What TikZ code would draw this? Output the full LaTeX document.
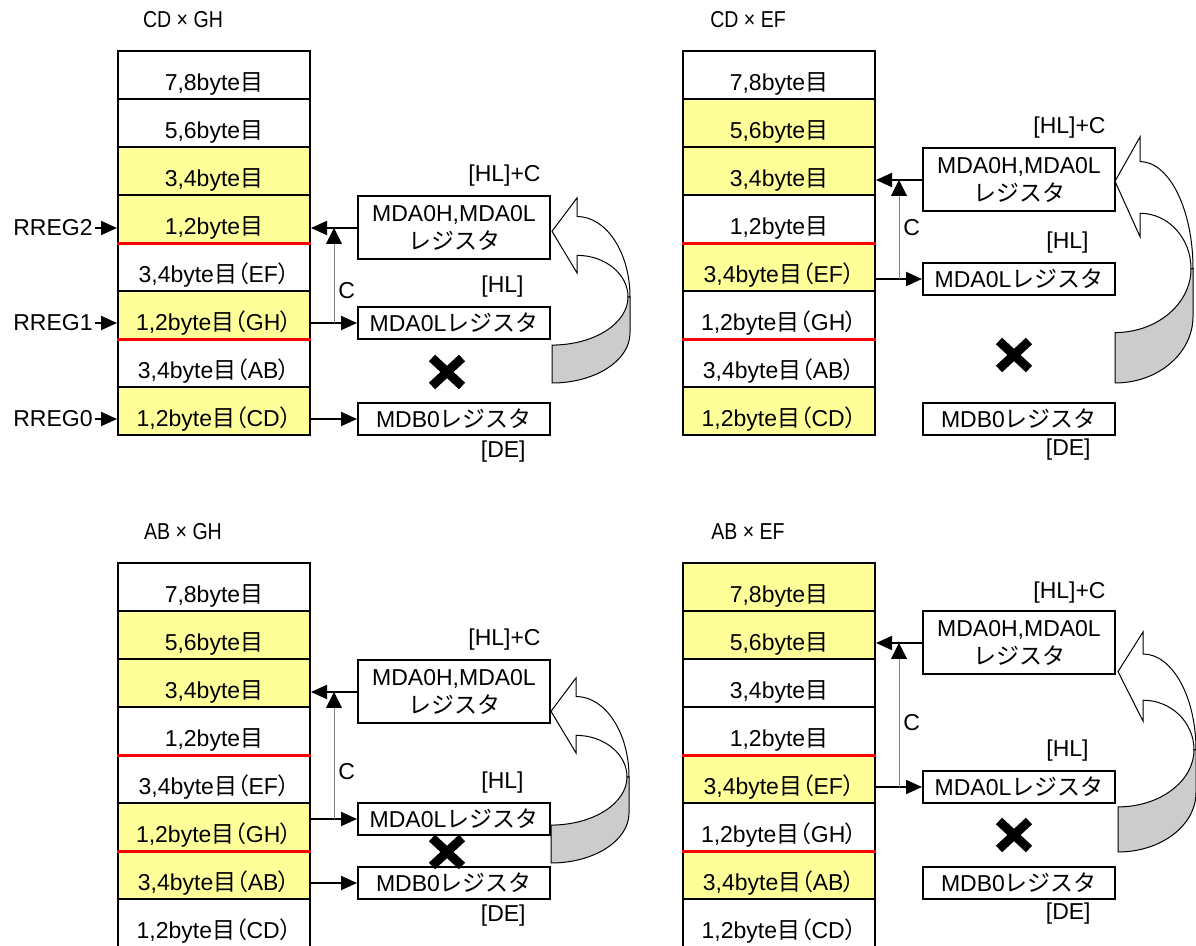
\documentclass[tikz,border=0pt]{standalone}
\usepackage{fontspec}
\setmainfont{Liberation Sans}
\newfontfamily\jp{Noto Sans CJK JP}
\newfontfamily\jpprop[RawFeature=+palt]{Noto Sans CJK JP}
\usetikzlibrary{arrows.meta,calc}
\definecolor{hilite}{RGB}{255,255,153}
\definecolor{sepred}{RGB}{255,0,0}
\definecolor{backgray}{RGB}{204,204,204}
\newcommand{\moku}{{\jp 目}}
\newcommand{\regname}{{\jp レジスタ}}
\newcommand{\byteno}[1]{#1byte\moku}
\newcommand{\bytereg}[2]{#1byte\moku{\jpprop （}#2{\jpprop ）}}
\newcommand{\pairtitle}[2]{\scalebox{0.85}[1]{#1 × #2}}
\tikzset{
    common/.style={draw, line width=1pt},
    cell/.style={common, minimum width=96pt, minimum height=24pt, inner sep=0pt, text height=16pt, text depth=0pt},
    regbox/.style={common, minimum width=96pt, inner sep=0pt, align=center},
    flow/.style={line width=1pt, -{Triangle[length=8pt,width=7pt]}},
    carry/.style={line width=0.5pt, gray, -{Triangle[length=8pt,width=8pt,color=black]}},
    sep/.style={sepred, line width=1.5pt},
    tag/.style={inner sep=1pt},
    nogo/.style={line width=4.5pt, line cap=butt},
    front/.style={draw, line width=0.5pt, fill=white},
    back/.style={draw, line width=0.5pt, fill=backgray}
}
\newcommand{\bytestack}[9]{%
    \node[cell, fill=#2] (#1-1) at (214,75) {\byteno{7,8}};
    \node[cell, fill=#3] (#1-2) at (214,123) {\byteno{5,6}};
    \node[cell, fill=#4] (#1-3) at (214,171) {\byteno{3,4}};
    \node[cell, fill=#5] (#1-4) at (214,219) {\byteno{1,2}};
    \node[cell, fill=#6] (#1-5) at (214,267) {\bytereg{3,4}{EF}};
    \node[cell, fill=#7] (#1-6) at (214,315) {\bytereg{1,2}{GH}};
    \node[cell, fill=#8] (#1-7) at (214,363) {\bytereg{3,4}{AB}};
    \node[cell, fill=#9] (#1-8) at (214,411) {\bytereg{1,2}{CD}};
    \draw[sep] (#1-4.south west) -- (#1-4.south east);
    \draw[sep] (#1-6.south west) -- (#1-6.south east);
}
\newcommand{\turnarrow}[3]{%
    \begin{scope}[shift={(#1,#2)}, yscale=#3/100]
        \draw[back] (78,53.5) -- (78,73) .. controls (78,87.9) and (43.1,100) .. (0,100)
            -- (0,79.5) .. controls (41.95,79.5) and (76,67.85) .. (76,53.5) -- cycle;
        \draw[front] (0,18) -- (25,0) -- (25,10) .. controls (54.3,10) and (78,29.5) .. (78,53.5)
            -- (76,53.5) .. controls (76,41.1) and (53.2,31) .. (25,31) -- (25,40.5) -- cycle;
    \end{scope}%
}

\begin{document}
\begin{tikzpicture}[x=0.5pt, y=-0.5pt, font=\fontsize{11.5}{14}\selectfont]
    \useasboundingbox (0,0) rectangle (1196,946);

    % CD x GH
    \begin{scope}
        \node (cg-t) at (183,20) {\pairtitle{CD}{GH}};
        \bytestack{cg}{white}{white}{hilite}{hilite}{white}{hilite}{white}{hilite}
        \node[regbox, minimum height=31.5pt] (cg-h) at (454,228) {MDA0H,MDA0L\\\regname};
        \node[regbox, minimum height=16pt] (cg-l) at (454,323) {MDA0L\regname};
        \node[regbox, minimum height=16pt] (cg-b) at (454,419) {MDB0\regname};
        \draw[flow] (cg-h.west) -- (cg-4.east |- cg-h.west);
        \draw[flow] (cg-6.east |- cg-l.west) -- (cg-l.west);
        \draw[flow] (cg-8.east |- cg-b.west) -- (cg-b.west);
        \coordinate (cg-c) at ($(cg-6.east |- cg-l.west)!0.5!(cg-l.west)$);
        \draw[carry] (cg-c) -- (cg-c |- cg-h.west);
        \node[tag, anchor=west] (cg-cl) at (336,291) {C};
        \node[tag, anchor=east] (cg-hc) at ($(cg-h.north east)+(-8,-20)$) {[HL]+C};
        \node[tag, anchor=east] (cg-hl) at ($(cg-l.north east)+(-25,-19)$) {[HL]};
        \node[tag, anchor=east] (cg-de) at ($(cg-b.south east)+(-23,16)$) {[DE]};
        \draw[nogo] (432,358) -- (462,386) (462,358) -- (432,386);
        \turnarrow{552}{198}{185}
        \node[tag, anchor=east] (rr2) at (95,228) {RREG2};
        \node[tag, anchor=east] (rr1) at (95,323) {RREG1};
        \node[tag, anchor=east] (rr0) at (95,419) {RREG0};
        \draw[flow] (rr2.east) -- (cg-4.west |- rr2.east);
        \draw[flow] (rr1.east) -- (cg-6.west |- rr1.east);
        \draw[flow] (rr0.east) -- (cg-8.west |- rr0.east);
    \end{scope}

    % CD x EF
    \begin{scope}[shift={(565,0)}]
        \node (ce-t) at (183,20) {\pairtitle{CD}{EF}};
        \bytestack{ce}{white}{hilite}{hilite}{white}{hilite}{white}{white}{hilite}
        \node[regbox, minimum height=31.5pt] (ce-h) at (454,180) {MDA0H,MDA0L\\\regname};
        \node[regbox, minimum height=16pt] (ce-l) at (454,279) {MDA0L\regname};
        \node[regbox, minimum height=16pt] (ce-b) at (454,419) {MDB0\regname};
        \draw[flow] (ce-h.west) -- (ce-3.east |- ce-h.west);
        \draw[flow] (ce-5.east |- ce-l.west) -- (ce-l.west);
        \coordinate (ce-c) at ($(ce-5.east |- ce-l.west)!0.5!(ce-l.west)$);
        \draw[carry] (ce-c) -- (ce-c |- ce-h.west);
        \node[tag, anchor=west] (ce-cl) at (336,228) {C};
        \node[tag, anchor=east] (ce-hc) at ($(ce-h.north east)+(-8,-20)$) {[HL]+C};
        \node[tag, anchor=east] (ce-hl) at ($(ce-l.north east)+(-25,-19)$) {[HL]};
        \node[tag, anchor=east] (ce-de) at ($(ce-b.south east)+(-23,14)$) {[DE]};
        \draw[nogo] (434,341) -- (464,369) (464,341) -- (434,369);
        \turnarrow{550}{137}{246}
    \end{scope}

    % AB x GH
    \begin{scope}[shift={(0,512)}]
        \node (ag-t) at (183,20) {\pairtitle{AB}{GH}};
        \bytestack{ag}{white}{hilite}{hilite}{white}{white}{hilite}{hilite}{white}
        \node[regbox, minimum height=31.5pt] (ag-h) at (454,180) {MDA0H,MDA0L\\\regname};
        \node[regbox, minimum height=16pt] (ag-l) at (454,307) {MDA0L\regname};
        \node[regbox, minimum height=16pt] (ag-b) at (454,371) {MDB0\regname};
        \draw[flow] (ag-h.west) -- (ag-3.east |- ag-h.west);
        \draw[flow] (ag-6.east |- ag-l.west) -- (ag-l.west);
        \draw[flow] (ag-7.east |- ag-b.west) -- (ag-b.west);
        \coordinate (ag-c) at ($(ag-6.east |- ag-l.west)!0.5!(ag-l.west)$);
        \draw[carry] (ag-c) -- (ag-c |- ag-h.west);
        \node[tag, anchor=west] (ag-cl) at (336,260) {C};
        \node[tag, anchor=east] (ag-hc) at ($(ag-h.north east)+(-8,-20)$) {[HL]+C};
        \node[tag, anchor=east] (ag-hl) at ($(ag-l.north east)+(-25,-19)$) {[HL]};
        \node[tag, anchor=east] (ag-de) at ($(ag-b.south east)+(-23,16)$) {[DE]};
        \draw[nogo] (432,326) -- (462,354) (462,326) -- (432,354);
        \turnarrow{551}{166}{185}
    \end{scope}

    % AB x EF
    \begin{scope}[shift={(565,512)}]
        \node (ae-t) at (183,20) {\pairtitle{AB}{EF}};
        \bytestack{ae}{hilite}{hilite}{white}{white}{hilite}{white}{hilite}{white}
        \node[regbox, minimum height=31.5pt] (ae-h) at (454,131) {MDA0H,MDA0L\\\regname};
        \node[regbox, minimum height=16pt] (ae-l) at (454,275) {MDA0L\regname};
        \node[regbox, minimum height=16pt] (ae-b) at (454,371) {MDB0\regname};
        \draw[flow] (ae-h.west) -- (ae-2.east |- ae-h.west);
        \draw[flow] (ae-5.east |- ae-l.west) -- (ae-l.west);
        \coordinate (ae-c) at ($(ae-5.east |- ae-l.west)!0.5!(ae-l.west)$);
        \draw[carry] (ae-c) -- (ae-c |- ae-h.west);
        \node[tag, anchor=west] (ae-cl) at (336,211) {C};
        \node[tag, anchor=east] (ae-hc) at ($(ae-h.north east)+(-8,-18)$) {[HL]+C};
        \node[tag, anchor=east] (ae-hl) at ($(ae-l.north east)+(-25,-19)$) {[HL]};
        \node[tag, anchor=east] (ae-de) at ($(ae-b.south east)+(-23,14)$) {[DE]};
        \draw[nogo] (434,309) -- (464,337) (464,309) -- (434,337);
        \turnarrow{553}{120}{220}
    \end{scope}
\end{tikzpicture}
\end{document}
